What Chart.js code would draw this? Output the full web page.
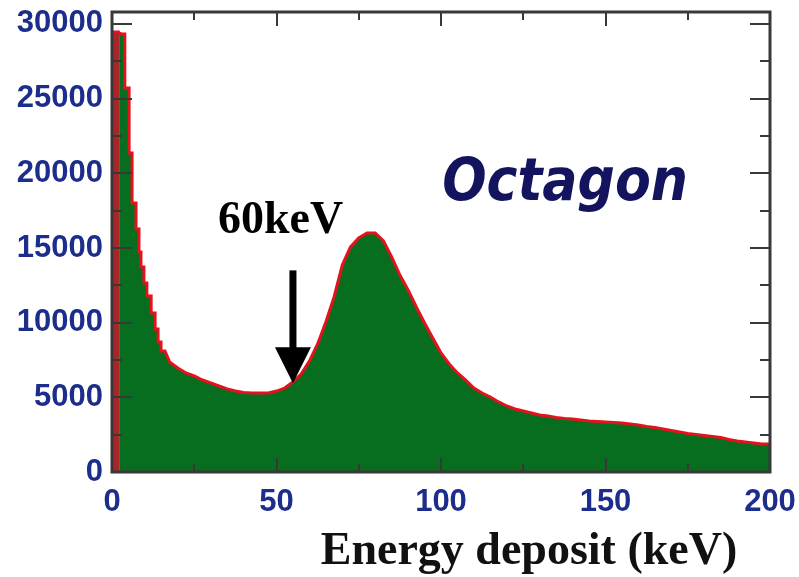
<!DOCTYPE html>
<html lang="en">

<head>
    <meta charset="UTF-8">
    <title>Octagon - Energy deposit</title>
    <style>
        html, body {
            margin: 0;
            padding: 0;
            background: #fff;
        }
    </style>
</head>

<body>
    <canvas id="chart" width="799" height="577"></canvas>
    <script src="https://cdn.jsdelivr.net/npm/chart.js"></script>
    <script>
        // low-energy spike: narrow bins given by their edges (keV) and counts
        const spikeEdges = [0, 2.4, 3.9, 5.2, 6.1, 7.3, 8.2, 8.8, 9.7, 10.6, 11.9, 13.1, 14.0, 14.9, 16.1];
        const spikeCounts = [29460, 29330, 25710, 21360, 18010, 16270, 14730, 13730, 12660, 11790, 10650, 9580, 8700, 8100];

        // rest of the spectrum: energy (keV) and counts
        const energy = [
            17.5, 20, 22.5, 25, 27.5, 30, 32.5, 35, 37.5, 40, 42.5, 45, 47.5, 50,
            52.5, 55, 57.5, 60, 62.5, 65, 67.5, 70, 72.5, 75, 77.5, 80, 82.5, 85,
            87.5, 90, 92.5, 95, 97.5, 100, 102.5, 105, 107.5, 110, 112.5, 115, 117.5, 120,
            122.5, 125, 127.5, 130, 132.5, 135, 137.5, 140, 142.5, 145, 147.5, 150,
            152.5, 155, 157.5, 160, 162.5, 165, 167.5, 170, 172.5, 175, 177.5, 180,
            182.5, 185, 187.5, 190, 192.5, 195, 197.5, 200
        ];
        const counts = [
            7370, 6960, 6630, 6430, 6160, 5960, 5760, 5560, 5420, 5320, 5290, 5290, 5290, 5420,
            5620, 6030, 6560, 7430, 8570, 10040, 11720, 13860, 15070, 15670, 16000, 16000, 15470, 14400,
            13190, 12190, 11050, 9980, 8970, 7970, 7230, 6630, 6160, 5620, 5290, 5020, 4690, 4420,
            4220, 4080, 3950, 3820, 3750, 3650, 3580, 3550, 3480, 3410, 3380, 3350,
            3310, 3280, 3210, 3150, 3050, 2980, 2880, 2780, 2680, 2580, 2510, 2440,
            2380, 2310, 2180, 2080, 2010, 1940, 1870, 1870
        ];

        const xTicks = [0, 50, 100, 150, 200];
        const xMinor = [25, 75, 125, 175];
        const yTicks = [0, 5000, 10000, 15000, 20000, 25000, 30000];
        const yMinor = [2500, 7500, 12500, 17500, 22500, 27500];

        const xMax = 200;
        const yMax = 30800;

        // annotation: arrow marking the 60 keV threshold
        const arrowKeV = 55;
        const arrowTop = 13500;
        const arrowTip = 5950;

        const tickBlue = "#1c2d8c";
        const fillGreen = "#086e1f";
        const lineRed = "#e3121c";

        // spike bins become step corners, then the smooth part follows as points
        const outline = [];
        spikeCounts.forEach((c, i) => {
            outline.push({ x: spikeEdges[i], y: c });
            outline.push({ x: spikeEdges[i + 1], y: c });
        });
        energy.forEach((e, i) => outline.push({ x: e, y: counts[i] }));

        const frame = {
            id: "frame",
            afterDatasetsDraw(chart) {
                const { ctx, chartArea: a, scales: { x, y } } = chart;
                ctx.save();

                // tick marks on all four sides
                ctx.strokeStyle = "#383838";
                ctx.lineWidth = 2;
                ctx.beginPath();
                const yMark = (v, len) => {
                    const py = Math.round(y.getPixelForValue(v));
                    ctx.moveTo(a.left, py); ctx.lineTo(a.left + len, py);
                    ctx.moveTo(a.right, py); ctx.lineTo(a.right - len, py);
                };
                const xMark = (v, len) => {
                    const px = Math.round(x.getPixelForValue(v));
                    ctx.moveTo(px, a.top); ctx.lineTo(px, a.top + len);
                    ctx.moveTo(px, a.bottom); ctx.lineTo(px, a.bottom - len);
                };
                yTicks.slice(1).forEach(v => yMark(v, 20));
                yMinor.forEach(v => yMark(v, 10));
                xTicks.slice(1, -1).forEach(v => xMark(v, 14));
                xMinor.forEach(v => xMark(v, 8));
                ctx.stroke();

                // frame
                ctx.lineWidth = 3;
                ctx.strokeRect(a.left, a.top, a.right - a.left, a.bottom - a.top);

                // arrow
                const ax = x.getPixelForValue(arrowKeV);
                const ay0 = y.getPixelForValue(arrowTop);
                const ay1 = y.getPixelForValue(arrowTip);
                ctx.fillStyle = "#000";
                ctx.fillRect(ax - 3.5, ay0, 7, ay1 - ay0 - 34);
                ctx.beginPath();
                ctx.moveTo(ax - 18, ay1 - 36);
                ctx.lineTo(ax + 18, ay1 - 36);
                ctx.lineTo(ax, ay1);
                ctx.closePath();
                ctx.fill();

                // labels
                ctx.fillStyle = "#000";
                ctx.font = "bold 46px 'Liberation Serif'";
                ctx.textAlign = "left";
                ctx.textBaseline = "alphabetic";
                ctx.fillText("60keV", x.getPixelForValue(32.2), y.getPixelForValue(16000));

                ctx.fillStyle = "#13135e";
                ctx.font = "italic bold 58px 'DejaVu Sans Condensed'";
                ctx.textAlign = "center";
                ctx.fillText("Octagon", x.getPixelForValue(137.7), y.getPixelForValue(18210));

                // axis title
                ctx.fillStyle = "#111";
                ctx.font = "bold 46px 'Liberation Serif'";
                ctx.fillText("Energy deposit (keV)", 529, 564);

                ctx.restore();
            }
        };

        const ctx = document.getElementById("chart");

        const tickFont = { family: "Liberation Sans", size: 31, weight: "bold" };

        const chart = new Chart(ctx, {
            type: "line",
            data: {
                datasets: [{
                    label: "Octagon",
                    data: outline,
                    borderColor: lineRed,
                    borderWidth: 3,
                    borderJoinStyle: "miter",
                    backgroundColor: fillGreen,
                    fill: "origin",
                    pointRadius: 0,
                    segment: {
                        // first bin is shaded red
                        backgroundColor: c => c.p0DataIndex === 0 ? "#a8262a" : undefined
                    }
                }]
            },
            options: {
                responsive: false,
                animation: false,
                layout: { padding: { left: 0, right: 29, top: 12, bottom: 0 } },
                plugins: {
                    legend: { display: false },
                    tooltip: { enabled: false }
                },
                scales: {
                    x: {
                        type: "linear",
                        min: 0,
                        max: xMax,
                        grid: { display: false, drawTicks: false },
                        border: { display: false },
                        afterBuildTicks: s => { s.ticks = xTicks.map(v => ({ value: v })); },
                        afterFit: s => {
                            s.height = 105;
                            s.paddingLeft = 0;
                            s.paddingRight = 0;
                        },
                        ticks: {
                            autoSkip: false,
                            maxRotation: 0,
                            padding: 12,
                            color: tickBlue,
                            font: tickFont
                        }
                    },
                    y: {
                        min: 0,
                        max: yMax,
                        grid: { display: false, drawTicks: false },
                        border: { display: false },
                        afterBuildTicks: s => { s.ticks = yTicks.map(v => ({ value: v })); },
                        afterFit: s => {
                            s.width = 112;
                            s.paddingTop = 0;
                            s.paddingBottom = 0;
                        },
                        ticks: {
                            padding: 9,
                            color: tickBlue,
                            font: tickFont,
                            callback: v => String(v)
                        }
                    }
                }
            },
            plugins: [frame]
        });
    </script>
</body>

</html>
